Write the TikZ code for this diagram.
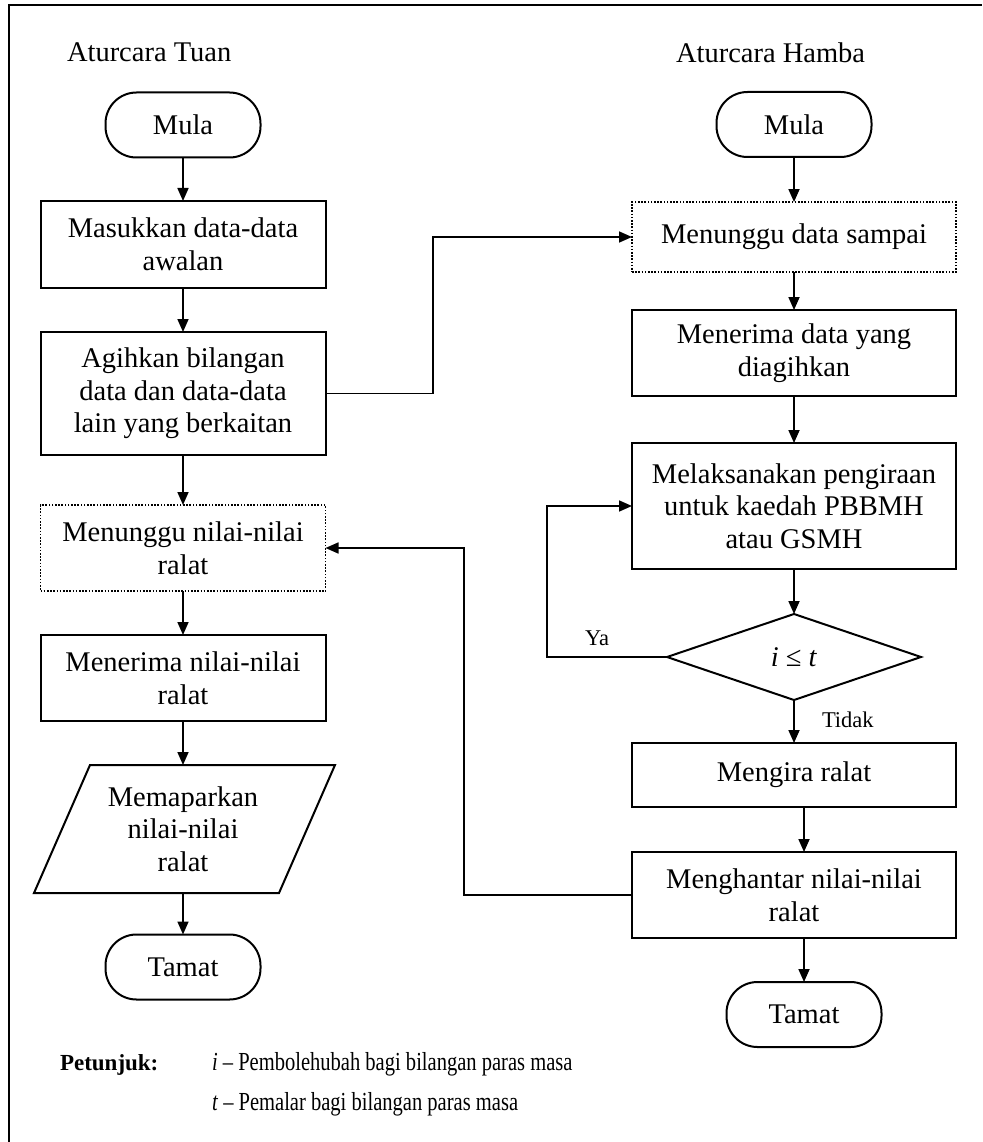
\documentclass[tikz,border=0pt]{standalone}
\usepackage{fontspec}
\usepackage{graphicx}
\setmainfont{Liberation Serif}
\usetikzlibrary{arrows.meta,shapes.geometric,calc}
\newcommand\bxfont{\fontsize{28.5}{32.5}\selectfont}
\newcommand\lbfont{\fontsize{22.5}{26}\selectfont}
\newcommand\lgfont{\fontsize{26}{30}\selectfont}
\newcommand\pjfont{\fontsize{23}{27}\selectfont}
\begin{document}
\begin{tikzpicture}[x=1pt,y=-1pt,
  every node/.style={inner sep=0pt, outer sep=0pt},
  proc/.style={draw, line width=2pt, align=center, font=\bxfont, minimum width=285pt},
  procR/.style={proc, minimum width=324pt},
  dots/.style={line width=1.5pt, dash pattern=on 1.6pt off 1.6pt},
  term/.style={draw, line width=2pt, font=\bxfont, minimum width=155pt, minimum height=65pt, rounded corners=31pt},
  conn/.style={line width=1.7pt, -{Triangle[length=13pt,width=11pt]}},
  lbl/.style={font=\lbfont},
  title/.style={font=\bxfont, anchor=base west}]
\useasboundingbox (0,0) rectangle (982,1142);
% frame
\draw[line width=2pt] (9,1142) -- (9,5) -- (982,5);

% titles
\node[title] (tTuan) at (67,62) {Aturcara Tuan};
\node[title] (tHamba) at (676,63) {Aturcara Hamba};

% left column
\node[term] (mulaL) at (183,125) {Mula};
\node[proc, minimum height=87pt] (masuk) at (183,244.5) {Masukkan data-data\\awalan};
\node[proc, minimum height=123pt] (agih) at (183,393.5) {Agihkan bilangan\\data dan data-data\\lain yang berkaitan};
\node[proc, dots, minimum height=86pt] (tunggu) at (183,548) {Menunggu nilai-nilai\\ralat};
\node[proc, minimum height=86pt] (terima) at (183,678) {Menerima nilai-nilai\\ralat};
\node[align=center, font=\bxfont, minimum width=240pt, minimum height=128pt] (io) at (183,829) {Memaparkan\\nilai-nilai\\ralat};
\draw[line width=2pt] (90,765) -- (335,765) -- (279,893) -- (34,893) -- cycle;
\node[term] (tamatL) at (183,967) {Tamat};

% right column
\node[term] (mulaR) at (794,124.5) {Mula};
\node[procR, dots, minimum height=70pt] (tunggud) at (794,237) {Menunggu data sampai};
\node[procR, minimum height=86pt] (terimad) at (794,353) {Menerima data yang\\diagihkan};
\node[procR, minimum height=126pt] (laksana) at (794,506) {Melaksanakan pengiraan\\untuk kaedah PBBMH\\atau GSMH};
\node[draw, diamond, aspect=3, line width=2pt, minimum width=254pt, minimum height=86pt, font=\bxfont] (dec) at (794,657) {\textit{i} ≤ \textit{t}};
\node[procR, minimum height=64pt] (ngira) at (794,775) {Mengira ralat};
\node[procR, minimum height=86pt] (hantar) at (794,895) {Menghantar nilai-nilai\\ralat};
\node[term] (tamatR) at (804,1014.5) {Tamat};

% left connectors
\draw[conn] (mulaL) -- (masuk);
\draw[conn] (masuk) -- (agih);
\draw[conn] (agih) -- (tunggu);
\draw[conn] (tunggu) -- (terima);
\draw[conn] (terima.south) -- (io.north);
\draw[conn] (io.south) -- (tamatL.north);

% right connectors
\draw[conn] (mulaR) -- (tunggud);
\draw[conn] (tunggud) -- (terimad);
\draw[conn] (terimad) -- (laksana);
\draw[conn] (laksana) -- (dec);
\draw[conn] (dec) -- (ngira);
\draw[conn] (ngira.south -| tamatR) -- (hantar.north -| tamatR);
\draw[conn] (hantar.south -| tamatR) -- (tamatR.north);

% cross connectors
\coordinate (j1) at (433,0);
\coordinate (j2) at (464,0);
\coordinate (j3) at (547,0);
\draw[conn] (agih.east) -- (agih.east -| j1) |- (tunggud.west);
\draw[conn] (hantar.west) -- (hantar.west -| j2) |- (tunggu.east);
\draw[conn] (dec.west) -- (dec.west -| j3) |- (laksana.west);

% labels
\node[lbl] (ya) at (597,638) {Ya};
\node[lbl, anchor=west] (tidak) at (822,720) {Tidak};

% legend
\node[font=\pjfont\bfseries, anchor=base west] (pj) at (60,1070) {Petunjuk:};
\node[font=\lgfont, anchor=base west] (lg1) at (212,1070) {\scalebox{0.79}[1]{\textit{i} – Pembolehubah bagi bilangan paras masa}};
\node[font=\lgfont, anchor=base west] (lg2) at (212,1110) {\scalebox{0.79}[1]{\textit{t} – Pemalar bagi bilangan paras masa}};
\end{tikzpicture}
\end{document}
